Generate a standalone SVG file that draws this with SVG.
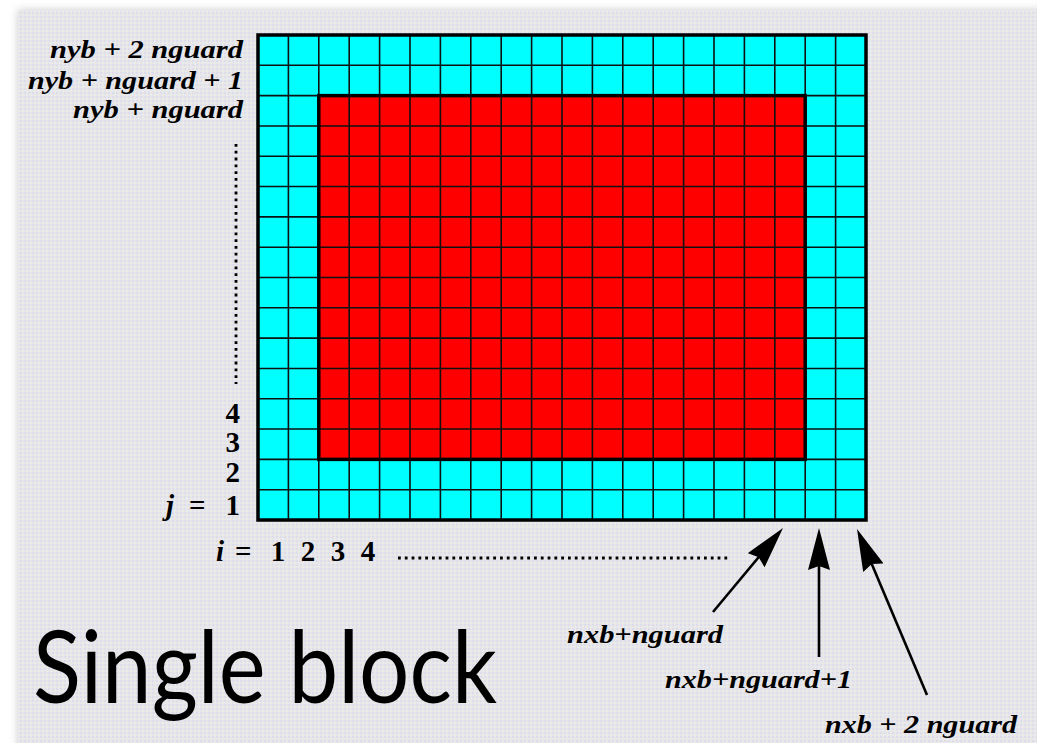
<svg xmlns="http://www.w3.org/2000/svg" width="1037" height="743" viewBox="0 0 1037 743">
  <defs>
    <pattern id="dither" width="4" height="4" patternUnits="userSpaceOnUse">
      <rect width="4" height="4" fill="#e6e6ec"/>
      <rect x="0" y="0" width="2" height="2" fill="#dedee8"/>
      <rect x="2" y="2" width="2" height="2" fill="#ebebe6"/>
    </pattern>
    <filter id="shadow" x="-5%" y="-5%" width="110%" height="110%">
      <feGaussianBlur stdDeviation="4"/>
    </filter>
    <marker id="head" markerUnits="userSpaceOnUse" markerWidth="42" markerHeight="22" refX="32" refY="11" orient="auto">
      <path d="M0,0 L42,11 L0,22 L4,11 Z" fill="#000"/>
    </marker>
    <style>
      .lbl { font-weight: 700; font-style: italic; font-size: 26px; fill: #000; }
      .num { font-weight: 700; font-size: 29px; fill: #000; }
      .ital { font-style: italic; }
      .title { font-family: Lato, "Open Sans", sans-serif; font-size: 100px; fill: #000; }
      .grid { stroke: #111; stroke-width: 1.6; fill: none; }
      .border { stroke: #000; stroke-width: 3.5; fill: none; }
      .dots { stroke: #000; stroke-width: 2.8; fill: none; stroke-dasharray: 2.8 4; }
      .arrow { stroke: #000; stroke-width: 2.6; fill: none; marker-end: url(#head); }
    </style>
  </defs>

  <rect width="1037" height="743" fill="#ffffff"/>
  <rect x="18" y="10" width="1030" height="745" fill="#9a9aa0" filter="url(#shadow)" opacity="0.5"/>
  <rect x="18" y="10" width="1019" height="733" fill="url(#dither)"/>

  <g id="block">
    <rect x="258" y="35" width="608" height="485" fill="#00ffff"/>
    <rect x="318.8" y="95.63" width="486.4" height="363.75" fill="#ff0000"/>
    <path class="grid" d="M288.4 35V520M318.8 35V520M349.2 35V520M379.6 35V520M410 35V520M440.4 35V520M470.8 35V520M501.2 35V520M531.6 35V520M562 35V520M592.4 35V520M622.8 35V520M653.2 35V520M683.6 35V520M714 35V520M744.4 35V520M774.8 35V520M805.2 35V520M835.6 35V520
      M258 65.31H866M258 95.63H866M258 125.94H866M258 156.25H866M258 186.56H866M258 216.88H866M258 247.19H866M258 277.5H866M258 307.81H866M258 338.13H866M258 368.44H866M258 398.75H866M258 429.06H866M258 459.38H866M258 489.69H866"/>
    <rect class="border" x="318.8" y="95.63" width="486.4" height="363.75"/>
    <rect class="border" x="258" y="35" width="608" height="485"/>
  </g>

  <g font-family="Liberation Serif, Times New Roman, Times, serif">
  <g id="row-labels">
    <text class="lbl" x="243" y="58" text-anchor="end" textLength="193" lengthAdjust="spacingAndGlyphs">nyb + 2 nguard</text>
    <text class="lbl" x="243" y="89" text-anchor="end" textLength="215" lengthAdjust="spacingAndGlyphs">nyb + nguard + 1</text>
    <text class="lbl" x="243" y="118" text-anchor="end" textLength="170" lengthAdjust="spacingAndGlyphs">nyb + nguard</text>
    <path class="dots" d="M236 144V384"/>
    <text class="num" x="240" y="423" text-anchor="end">4</text>
    <text class="num" x="240" y="452" text-anchor="end">3</text>
    <text class="num" x="240" y="482" text-anchor="end">2</text>
    <text class="num ital" x="166" y="515">j</text>
    <text class="num" x="189" y="515">=</text>
    <text class="num" x="240" y="515" text-anchor="end">1</text>
  </g>

  <g id="col-labels">
    <text class="num ital" x="216" y="561">i</text>
    <text class="num" x="235" y="561">=</text>
    <text class="num" x="278" y="561" text-anchor="middle">1</text>
    <text class="num" x="308" y="561" text-anchor="middle">2</text>
    <text class="num" x="338" y="561" text-anchor="middle">3</text>
    <text class="num" x="368" y="561" text-anchor="middle">4</text>
    <path class="dots" d="M398 558H729"/>
  </g>

  <g id="connectors">
    <path class="arrow" d="M713 612L776.6 535.7"/>
    <path class="arrow" d="M819 657L819 538"/>
    <path class="arrow" d="M927 695L860.9 538.2"/>
  </g>

  <g id="arrow-labels">
    <text class="lbl" x="567" y="643" textLength="156" lengthAdjust="spacingAndGlyphs">nxb+nguard</text>
    <text class="lbl" x="665" y="688" textLength="187" lengthAdjust="spacingAndGlyphs">nxb+nguard+1</text>
    <text class="lbl" x="825" y="733" textLength="192" lengthAdjust="spacingAndGlyphs">nxb + 2 nguard</text>
  </g>
  </g>

  <g id="title">
    <text class="title" x="33" y="703" textLength="464" lengthAdjust="spacingAndGlyphs">Single block</text>
  </g>
</svg>
